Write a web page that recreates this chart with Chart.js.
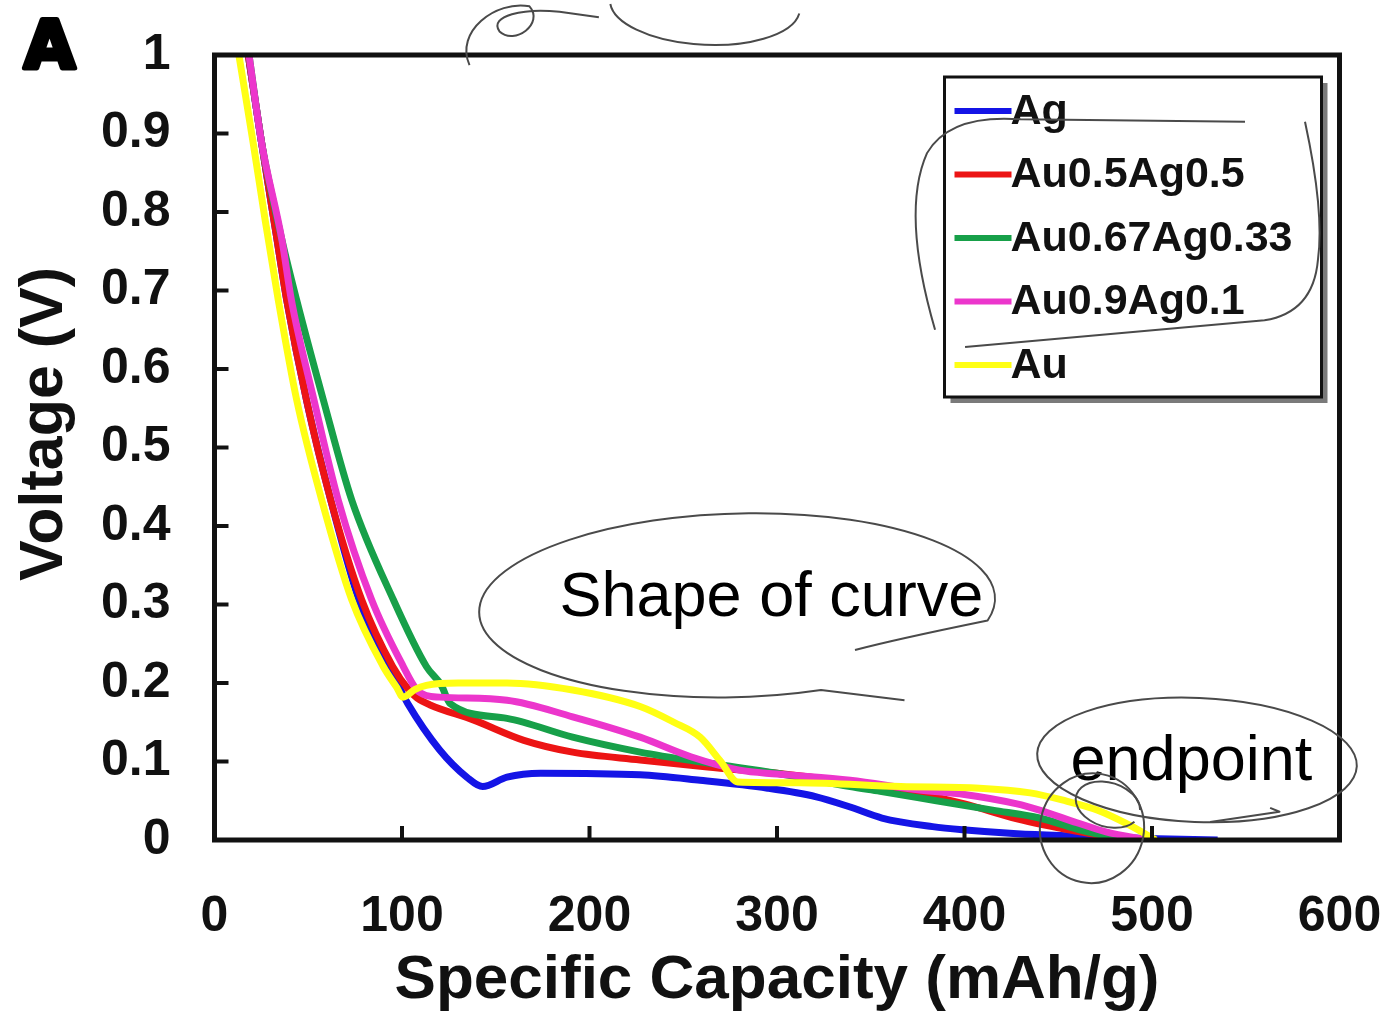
<!DOCTYPE html>
<html>
<head>
<meta charset="utf-8">
<script src="https://cdn.jsdelivr.net/npm/chart.js@4.4.1/dist/chart.umd.min.js"></script>
<style>
  html, body { margin: 0; padding: 0; background: #fff; }
  #wrap { width: 1389px; height: 1016px; }
</style>
</head>
<body>
<div id="wrap"><canvas id="chart"></canvas></div>
<script>
// series names and colours, in legend order
const seriesNames = ['Ag', 'Au0.5Ag0.5', 'Au0.67Ag0.33', 'Au0.9Ag0.1', 'Au'];
const seriesColors = ['#1414e6', '#ec1414', '#17a049', '#ec36cc', '#ffff14'];

// specific capacity (mAh/g) and voltage (V)
const agCap = [18, 25, 33, 38.5, 49, 62, 77, 93, 100.6, 103, 120, 134.6, 143, 156, 174, 227, 259, 295, 321, 339, 356, 383, 399, 428, 462, 497, 535];
const agV   = [1.0, 0.89, 0.77, 0.688, 0.561, 0.433, 0.306, 0.221, 0.185, 0.174, 0.115, 0.080, 0.068, 0.080, 0.085, 0.083, 0.076, 0.066, 0.055, 0.042, 0.028, 0.017, 0.013, 0.008, 0.005, 0.002, 0];

const au50Cap = [18, 25, 33, 38.5, 49, 62, 78.5, 95, 104, 108, 115, 138, 165, 191, 227, 263, 300, 334, 370, 400, 428, 460, 487];
const au50V   = [1.0, 0.89, 0.77, 0.688, 0.561, 0.433, 0.306, 0.221, 0.19, 0.181, 0.172, 0.153, 0.127, 0.112, 0.102, 0.093, 0.085, 0.075, 0.062, 0.046, 0.027, 0.011, 0];

const au67Cap = [18.4, 25, 36, 43.8, 58, 73.2, 95.4, 113, 121, 125.6, 156, 191, 227, 263, 300, 339, 355, 385, 415, 440, 460, 476, 492];
const au67V   = [1.0, 0.89, 0.764, 0.688, 0.561, 0.433, 0.306, 0.221, 0.197, 0.174, 0.155, 0.131, 0.112, 0.098, 0.085, 0.068, 0.062, 0.050, 0.038, 0.028, 0.014, 0.005, 0];

const au90Cap = [18.4, 25, 36, 41, 53, 66, 83.8, 100.7, 108, 113, 120, 156, 191, 227, 254, 280, 300, 339, 375, 400, 428, 440, 460, 476, 497];
const au90V   = [1.0, 0.89, 0.764, 0.688, 0.561, 0.433, 0.306, 0.221, 0.191, 0.184, 0.182, 0.178, 0.157, 0.131, 0.106, 0.089, 0.084, 0.076, 0.064, 0.058, 0.046, 0.038, 0.022, 0.010, 0];

const auCap = [13, 20.5, 27, 34, 43.8, 57.2, 73.2, 90, 97, 100.6, 107, 113, 130, 156, 191, 227, 245, 259, 270, 279, 312, 366, 408, 435, 452, 471, 488, 502];
const auV   = [1.0, 0.89, 0.79, 0.688, 0.561, 0.433, 0.306, 0.221, 0.195, 0.182, 0.192, 0.197, 0.200, 0.200, 0.191, 0.170, 0.150, 0.131, 0.100, 0.074, 0.073, 0.068, 0.066, 0.060, 0.051, 0.038, 0.019, 0];

const xTicks = [0, 100, 200, 300, 400, 500, 600];
const yTicks = [0, 0.1, 0.2, 0.3, 0.4, 0.5, 0.6, 0.7, 0.8, 0.9, 1];

const capSets = [agCap, au50Cap, au67Cap, au90Cap, auCap];
const vSets = [agV, au50V, au67V, au90V, auV];

const FONT = '"Liberation Sans", Arial, sans-serif';
const INK = '#111';
const PEN = '#4a4a4a';

function toPoints(caps, volts) {
  return caps.map((c, i) => ({ x: c, y: volts[i] }));
}

// black frame with inward ticks
const framePlugin = {
  id: 'frame',
  afterDatasetsDraw(chart) {
    const { ctx, chartArea: a, scales: { x, y } } = chart;
    ctx.save();
    ctx.strokeStyle = INK;
    ctx.lineWidth = 4;
    yTicks.slice(1, -1).forEach(v => {
      const py = y.getPixelForValue(v);
      ctx.beginPath();
      ctx.moveTo(a.left, py);
      ctx.lineTo(a.left + 14, py);
      ctx.stroke();
    });
    xTicks.slice(1, -1).forEach(v => {
      const px = x.getPixelForValue(v);
      ctx.beginPath();
      ctx.moveTo(px, a.bottom);
      ctx.lineTo(px, a.bottom - 14);
      ctx.stroke();
    });
    ctx.lineWidth = 5;
    ctx.strokeRect(a.left, a.top, a.right - a.left, a.bottom - a.top);
    ctx.restore();
  }
};

// boxed legend with a drop shadow, top right inside the plot
const boxLegend = {
  id: 'boxLegend',
  afterDraw(chart) {
    const { ctx, chartArea: a } = chart;
    const w = 377, h = 320;
    const lx = a.right - 395, ly = a.top + 22;
    ctx.save();
    ctx.fillStyle = '#7a7a7a';
    ctx.fillRect(lx + 6, ly + 6, w, h);
    ctx.fillStyle = '#fff';
    ctx.fillRect(lx, ly, w, h);
    ctx.strokeStyle = INK;
    ctx.lineWidth = 3;
    ctx.strokeRect(lx, ly, w, h);
    ctx.font = 'bold 43px ' + FONT;
    ctx.textBaseline = 'middle';
    chart.data.datasets.forEach((ds, i) => {
      const ry = ly + 34 + i * 63.5;
      ctx.strokeStyle = ds.borderColor;
      ctx.lineWidth = 6;
      ctx.beginPath();
      ctx.moveTo(lx + 10, ry);
      ctx.lineTo(lx + 67, ry);
      ctx.stroke();
      ctx.fillStyle = INK;
      ctx.fillText(ds.label, lx + 66, ry + 1);
    });
    ctx.restore();
  }
};

// y title, panel letter and the hand-written notes, placed in data units
const notesPlugin = {
  id: 'notes',
  afterDraw(chart) {
    const { ctx, scales: { x, y } } = chart;
    const px = c => x.getPixelForValue(c);
    const py = v => y.getPixelForValue(v);
    const kx = px(1) - px(0);
    const ky = py(0) - py(1);
    ctx.save();

    // y axis title
    ctx.save();
    ctx.translate(45, py(0.53));
    ctx.rotate(-Math.PI / 2);
    ctx.font = 'bold 61px ' + FONT;
    ctx.fillStyle = INK;
    ctx.textAlign = 'center';
    ctx.textBaseline = 'middle';
    ctx.fillText('Voltage (V)', 0, 0);
    ctx.restore();

    // panel letter
    ctx.fillStyle = '#000';
    ctx.font = 'bold 66px "DejaVu Sans", sans-serif';
    ctx.textAlign = 'center';
    ctx.textBaseline = 'alphabetic';
    ctx.lineWidth = 5;
    ctx.lineJoin = 'round';
    ctx.strokeStyle = '#000';
    ctx.strokeText('A', px(-88), py(0.983));
    ctx.fillText('A', px(-88), py(0.983));

    // written words
    ctx.font = '63px ' + FONT;
    ctx.fillText('Shape of curve', px(297), py(0.285));
    ctx.fillText('endpoint', px(521), py(0.077));

    ctx.strokeStyle = PEN;
    ctx.lineWidth = 2;

    // loop round "Shape of curve"
    ctx.beginPath();
    ctx.moveTo(px(368), py(0.178));
    ctx.ellipse(px(278.7), py(0.299), 137.6 * kx, 0.117 * ky, -0.03, 1.25, Math.PI * 2 + 0.25);
    ctx.quadraticCurveTo(px(362), py(0.255), px(341.6), py(0.242));
    ctx.stroke();

    // loop round "endpoint" and its arrow
    ctx.beginPath();
    ctx.ellipse(px(524), py(0.102), 85.3 * kx, 0.079 * ky, 0.04, 0, Math.PI * 2);
    ctx.stroke();
    ctx.beginPath();
    ctx.moveTo(px(531), py(0.023));
    ctx.lineTo(px(568), py(0.036));
    ctx.lineTo(px(563), py(0.041));
    ctx.stroke();

    // small loops round the curve ends
    ctx.beginPath();
    ctx.ellipse(px(468), py(0.015), 27.7 * kx, 0.070 * ky, 0.2, 0, Math.PI * 2);
    ctx.stroke();
    ctx.beginPath();
    ctx.ellipse(px(476.5), py(0.045), 17.6 * kx, 0.028 * ky, 0.3, 0.4, Math.PI * 2 - 0.2);
    ctx.stroke();

    // bracket round the legend
    ctx.beginPath();
    ctx.moveTo(px(384.3), py(0.650));
    ctx.quadraticCurveTo(px(366), py(0.80), px(380), py(0.875));
    ctx.quadraticCurveTo(px(392), py(0.925), px(430), py(0.918));
    ctx.lineTo(px(549.6), py(0.915));
    ctx.stroke();
    ctx.beginPath();
    ctx.moveTo(px(581.6), py(0.915));
    ctx.quadraticCurveTo(px(592), py(0.80), px(588.5), py(0.739));
    ctx.quadraticCurveTo(px(586), py(0.672), px(560), py(0.662));
    ctx.lineTo(px(400.3), py(0.628));
    ctx.stroke();

    // scribbles cut off at the top edge
    ctx.beginPath();
    ctx.ellipse(px(261.6), py(1.064), 50.7 * kx, 0.051 * ky, 0.05, 0.1, Math.PI - 0.1);
    ctx.stroke();
    ctx.beginPath();
    ctx.moveTo(px(136), py(0.987));
    ctx.bezierCurveTo(px(128), py(1.03), px(150), py(1.07), px(168), py(1.062));
    ctx.bezierCurveTo(px(176), py(1.04), px(160), py(1.012), px(152), py(1.03));
    ctx.bezierCurveTo(px(146), py(1.05), px(165), py(1.06), px(184), py(1.055));
    ctx.lineTo(px(205), py(1.048));
    ctx.stroke();

    ctx.restore();
  }
};

const datasets = seriesNames.map((name, i) => ({
  label: name,
  data: toPoints(capSets[i], vSets[i]),
  borderColor: seriesColors[i],
  backgroundColor: seriesColors[i],
  borderWidth: 7,
  pointRadius: 0,
  fill: false,
  cubicInterpolationMode: 'monotone',
  order: seriesNames.length - i
}));

new Chart(document.getElementById('chart'), {
  type: 'line',
  data: { datasets },
  plugins: [framePlugin, boxLegend, notesPlugin],
  options: {
    responsive: true,
    maintainAspectRatio: false,
    animation: false,
    layout: { padding: { top: 55, right: 49.5, left: 0, bottom: 0 } },
    plugins: {
      legend: { display: false },
      tooltip: { enabled: false }
    },
    scales: {
      x: {
        type: 'linear',
        min: 0,
        max: 600,
        afterBuildTicks: s => { s.ticks = xTicks.map(v => ({ value: v })); },
        afterFit: s => {
          s.height = 176;
          s.paddingLeft = 0;
          s.paddingRight = 0;
        },
        grid: { display: false, drawTicks: false },
        border: { display: false },
        ticks: {
          color: INK,
          padding: 47,
          maxRotation: 0,
          font: { family: FONT, size: 50, weight: 'bold' }
        },
        title: {
          display: true,
          text: 'Specific Capacity (mAh/g)',
          color: INK,
          padding: { top: 0, bottom: -2 },
          font: { family: FONT, size: 62, weight: 'bold' }
        }
      },
      y: {
        min: 0,
        max: 1,
        afterBuildTicks: s => { s.ticks = yTicks.map(v => ({ value: v })); },
        afterFit: s => {
          s.width = 214.5;
          s.paddingTop = 0;
          s.paddingBottom = 0;
        },
        grid: { display: false, drawTicks: false },
        border: { display: false },
        ticks: {
          color: INK,
          padding: 44,
          font: { family: FONT, size: 50, weight: 'bold' },
          callback: v => String(Number(v.toFixed(1)))
        },
        title: { display: false }
      }
    }
  }
});
</script>
</body>
</html>
